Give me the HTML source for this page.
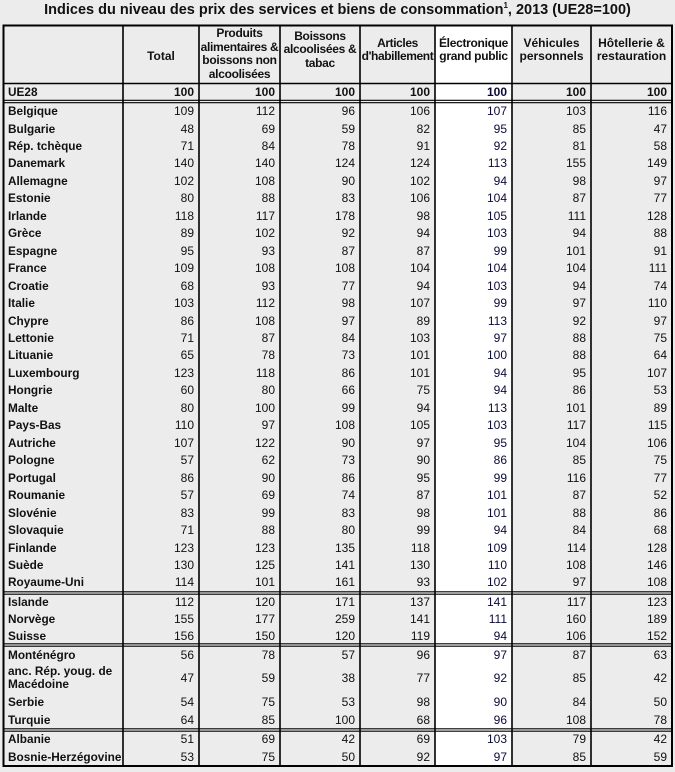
<!DOCTYPE html>
<html><head><meta charset="utf-8"><style>
body{margin:0;width:675px;height:772px;background:#ececec;font-family:"Liberation Sans",Arial,sans-serif;position:relative;overflow:hidden;color:#111}
.t{position:absolute;left:0;width:675px;top:1px;text-align:center;font-weight:bold;font-size:14.5px}
.t sup{font-size:8px}
.wc{position:absolute;left:435px;width:77px;top:25px;height:741px;background:#fff}
.r{position:absolute;left:3px;height:17px;line-height:17px;display:flex;font-size:12px}
.r span{display:block;text-align:right;padding-right:5px;box-sizing:border-box}
.r b{display:block;width:120px;padding-left:5px;box-sizing:border-box;white-space:nowrap;font-size:11.8px}
.r span:nth-of-type(1){width:76px}.r span:nth-of-type(2){width:81px}.r span:nth-of-type(3){width:80px}.r span:nth-of-type(4){width:75px}.r span:nth-of-type(5){width:77px;color:#0a0a3a}.r span:nth-of-type(6){width:79px}.r span:nth-of-type(7){width:81px}
.h{position:absolute;top:25px;height:58px;display:flex;align-items:center;justify-content:center;text-align:center;font-weight:bold;font-size:12px;line-height:13.5px;white-space:nowrap}
svg{position:absolute;left:0;top:0}
</style></head><body>
<div class="t">Indices du niveau des prix des services et biens de consommation<sup>1</sup>, 2013 (UE28=100)</div>
<div class="wc"></div>
<div class="h" style="left:123px;width:76px;padding-top:6px;box-sizing:border-box">Total</div>
<div class="h" style="left:199px;width:81px;letter-spacing:-0.3px">Produits<br>alimentaires &amp;<br>boissons non<br>alcoolisées</div>
<div class="h" style="left:280px;width:80px;padding-bottom:8px;box-sizing:border-box;letter-spacing:-0.3px">Boissons<br>alcoolisées &amp;<br>tabac</div>
<div class="h" style="left:360px;width:75px;padding-bottom:8px;box-sizing:border-box;letter-spacing:-0.4px">Articles<br>d'habillement</div>
<div class="h" style="left:435px;width:77px;padding-bottom:8px;box-sizing:border-box;letter-spacing:-0.3px">Électronique<br>grand public</div>
<div class="h" style="left:512px;width:79px;padding-bottom:8px;box-sizing:border-box">Véhicules<br>personnels</div>
<div class="h" style="left:591px;width:81px;padding-bottom:8px;box-sizing:border-box">Hôtellerie &amp;<br>restauration</div>

<div class="r" style="top:83.5px;font-weight:bold"><b>UE28</b><span>100</span><span>100</span><span>100</span><span>100</span><span>100</span><span>100</span><span>100</span></div>
<div class="r" style="top:103px"><b>Belgique</b><span>109</span><span>112</span><span>96</span><span>106</span><span>107</span><span>103</span><span>116</span></div>
<div class="r" style="top:120.5px"><b>Bulgarie</b><span>48</span><span>69</span><span>59</span><span>82</span><span>95</span><span>85</span><span>47</span></div>
<div class="r" style="top:137.9px"><b>Rép. tchèque</b><span>71</span><span>84</span><span>78</span><span>91</span><span>92</span><span>81</span><span>58</span></div>
<div class="r" style="top:155.4px"><b>Danemark</b><span>140</span><span>140</span><span>124</span><span>124</span><span>113</span><span>155</span><span>149</span></div>
<div class="r" style="top:172.8px"><b>Allemagne</b><span>102</span><span>108</span><span>90</span><span>102</span><span>94</span><span>98</span><span>97</span></div>
<div class="r" style="top:190.3px"><b>Estonie</b><span>80</span><span>88</span><span>83</span><span>106</span><span>104</span><span>87</span><span>77</span></div>
<div class="r" style="top:207.8px"><b>Irlande</b><span>118</span><span>117</span><span>178</span><span>98</span><span>105</span><span>111</span><span>128</span></div>
<div class="r" style="top:225.2px"><b>Grèce</b><span>89</span><span>102</span><span>92</span><span>94</span><span>103</span><span>94</span><span>88</span></div>
<div class="r" style="top:242.7px"><b>Espagne</b><span>95</span><span>93</span><span>87</span><span>87</span><span>99</span><span>101</span><span>91</span></div>
<div class="r" style="top:260.1px"><b>France</b><span>109</span><span>108</span><span>108</span><span>104</span><span>104</span><span>104</span><span>111</span></div>
<div class="r" style="top:277.6px"><b>Croatie</b><span>68</span><span>93</span><span>77</span><span>94</span><span>103</span><span>94</span><span>74</span></div>
<div class="r" style="top:295.1px"><b>Italie</b><span>103</span><span>112</span><span>98</span><span>107</span><span>99</span><span>97</span><span>110</span></div>
<div class="r" style="top:312.5px"><b>Chypre</b><span>86</span><span>108</span><span>97</span><span>89</span><span>113</span><span>92</span><span>97</span></div>
<div class="r" style="top:330px"><b>Lettonie</b><span>71</span><span>87</span><span>84</span><span>103</span><span>97</span><span>88</span><span>75</span></div>
<div class="r" style="top:347.4px"><b>Lituanie</b><span>65</span><span>78</span><span>73</span><span>101</span><span>100</span><span>88</span><span>64</span></div>
<div class="r" style="top:364.9px"><b>Luxembourg</b><span>123</span><span>118</span><span>86</span><span>101</span><span>94</span><span>95</span><span>107</span></div>
<div class="r" style="top:382.4px"><b>Hongrie</b><span>60</span><span>80</span><span>66</span><span>75</span><span>94</span><span>86</span><span>53</span></div>
<div class="r" style="top:399.8px"><b>Malte</b><span>80</span><span>100</span><span>99</span><span>94</span><span>113</span><span>101</span><span>89</span></div>
<div class="r" style="top:417.3px"><b>Pays-Bas</b><span>110</span><span>97</span><span>108</span><span>105</span><span>103</span><span>117</span><span>115</span></div>
<div class="r" style="top:434.7px"><b>Autriche</b><span>107</span><span>122</span><span>90</span><span>97</span><span>95</span><span>104</span><span>106</span></div>
<div class="r" style="top:452.2px"><b>Pologne</b><span>57</span><span>62</span><span>73</span><span>90</span><span>86</span><span>85</span><span>75</span></div>
<div class="r" style="top:469.7px"><b>Portugal</b><span>86</span><span>90</span><span>86</span><span>95</span><span>99</span><span>116</span><span>77</span></div>
<div class="r" style="top:487.1px"><b>Roumanie</b><span>57</span><span>69</span><span>74</span><span>87</span><span>101</span><span>87</span><span>52</span></div>
<div class="r" style="top:504.6px"><b>Slovénie</b><span>83</span><span>99</span><span>83</span><span>98</span><span>101</span><span>88</span><span>86</span></div>
<div class="r" style="top:522px"><b>Slovaquie</b><span>71</span><span>88</span><span>80</span><span>99</span><span>94</span><span>84</span><span>68</span></div>
<div class="r" style="top:539.5px"><b>Finlande</b><span>123</span><span>123</span><span>135</span><span>118</span><span>109</span><span>114</span><span>128</span></div>
<div class="r" style="top:557px"><b>Suède</b><span>130</span><span>125</span><span>141</span><span>130</span><span>110</span><span>108</span><span>146</span></div>
<div class="r" style="top:574.4px"><b>Royaume-Uni</b><span>114</span><span>101</span><span>161</span><span>93</span><span>102</span><span>97</span><span>108</span></div>
<div class="r" style="top:593.5px"><b>Islande</b><span>112</span><span>120</span><span>171</span><span>137</span><span>141</span><span>117</span><span>123</span></div>
<div class="r" style="top:610.5px"><b>Norvège</b><span>155</span><span>177</span><span>259</span><span>141</span><span>111</span><span>160</span><span>189</span></div>
<div class="r" style="top:627.5px"><b>Suisse</b><span>156</span><span>150</span><span>120</span><span>119</span><span>94</span><span>106</span><span>152</span></div>
<div class="r" style="top:646.5px"><b>Monténégro</b><span>56</span><span>78</span><span>57</span><span>96</span><span>97</span><span>87</span><span>63</span></div>
<div class="r" style="top:664px;height:28px;line-height:28px"><b style="line-height:13px;padding-top:1px">anc. Rép. youg. de<br>Macédoine</b><span>47</span><span>59</span><span>38</span><span>77</span><span>92</span><span>85</span><span>42</span></div>
<div class="r" style="top:693.5px"><b>Serbie</b><span>54</span><span>75</span><span>53</span><span>98</span><span>90</span><span>84</span><span>50</span></div>
<div class="r" style="top:711.5px"><b>Turquie</b><span>64</span><span>85</span><span>100</span><span>68</span><span>96</span><span>108</span><span>78</span></div>
<div class="r" style="top:730.5px"><b>Albanie</b><span>51</span><span>69</span><span>42</span><span>69</span><span>103</span><span>79</span><span>42</span></div>
<div class="r" style="top:748.5px"><b>Bosnie-Herzégovine</b><span>53</span><span>75</span><span>50</span><span>92</span><span>97</span><span>85</span><span>59</span></div>

<svg width="675" height="772">
<g stroke="#000" fill="none">
<rect x="3.5" y="25.5" width="668.5" height="740.5" stroke-width="2"/>
<g stroke-width="1.6">
<line x1="123" y1="25" x2="123" y2="766"/><line x1="199" y1="25" x2="199" y2="766"/>
<line x1="280" y1="25" x2="280" y2="766"/><line x1="360" y1="25" x2="360" y2="766"/>
<line x1="435" y1="25" x2="435" y2="766"/><line x1="512" y1="25" x2="512" y2="766"/>
<line x1="591" y1="25" x2="591" y2="766"/>
<line x1="3" y1="83.5" x2="672" y2="83.5"/>
</g>
<g stroke-width="1.2">
<line x1="3" y1="100.3" x2="672" y2="100.3"/><line x1="3" y1="102.7" x2="672" y2="102.7"/>
<line x1="3" y1="591.8" x2="672" y2="591.8"/><line x1="3" y1="594.2" x2="672" y2="594.2"/>
<line x1="3" y1="643.8" x2="672" y2="643.8"/><line x1="3" y1="646.2" x2="672" y2="646.2"/>
<line x1="3" y1="728.8" x2="672" y2="728.8"/><line x1="3" y1="731.2" x2="672" y2="731.2"/>
</g>
</g>
</svg>
</body></html>
